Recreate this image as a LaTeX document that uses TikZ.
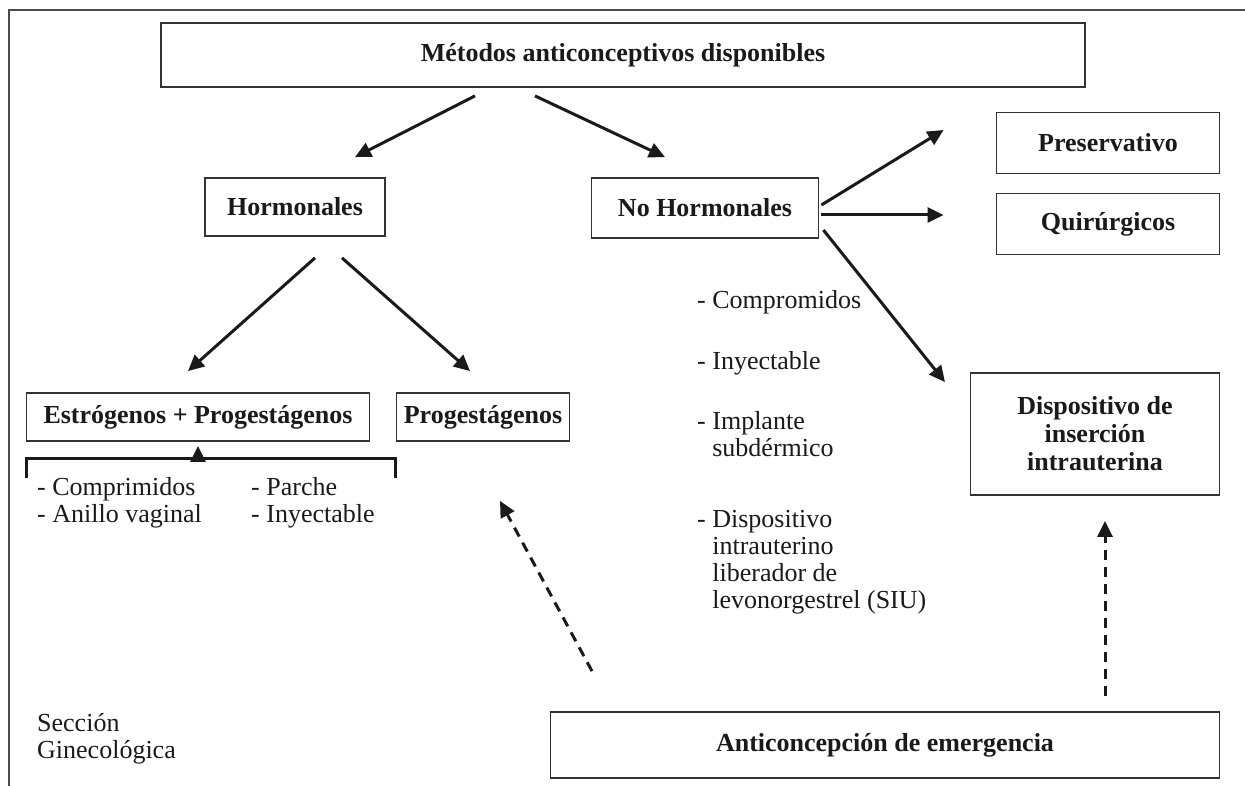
\documentclass[tikz,border=0pt]{standalone}
\usepackage{fontspec}
\setmainfont{Liberation Serif}
\usetikzlibrary{arrows.meta}
\definecolor{boxline}{HTML}{333333}
\definecolor{inkk}{HTML}{1A1A1A}

\begin{document}
\begin{tikzpicture}[x=1pt,y=-1pt,>={Triangle[length=16pt,width=15pt]},
  font=\fontsize{26}{27}\selectfont,text=inkk,
  box/.style={draw=boxline,line width=1.8pt,inner sep=0pt,align=center,
    font=\fontsize{26}{28}\selectfont\bfseries},
  arr/.style={->,draw=inkk,line width=3pt},
  darr/.style={->,draw=inkk,line width=3pt,dash pattern=on 10pt off 7pt},
  item/.style={anchor=north west,align=left,inner sep=0pt}]
  \useasboundingbox (0,0) rectangle (1245,786);
  % outer frame, only top and left
  \draw[gray!60!black,line width=2pt] (9,786) -- (9,10) -- (1245,10);
  % boxes
  \node[box,minimum width=924pt,minimum height=64pt] (metodos) at (623,55) {Métodos anticonceptivos disponibles};
  \node[box,minimum width=180pt,minimum height=58pt] (horm) at (295,207) {Hormonales};
  \node[box,minimum width=227pt,minimum height=60pt] (nohorm) at (705,208) {No Hormonales};
  \node[box,minimum width=223pt,minimum height=61pt] (pres) at (1108,143) {Preservativo};
  \node[box,minimum width=223pt,minimum height=61pt] (quir) at (1108,224) {Quirúrgicos};
  \node[box,minimum width=343pt,minimum height=48pt] (estpro) at (198,417) {Estrógenos + Progestágenos};
  \node[box,minimum width=173pt,minimum height=48pt] (prog) at (483,417) {Progestágenos};
  \node[box,minimum width=249pt,minimum height=122pt] (diu) at (1095,434) {Dispositivo de\\inserción\\intrauterina};
  \node[box,minimum width=669pt,minimum height=66pt] (emerg) at (885,745) {Anticoncepción de emergencia};
  % arrows between the boxes
  \draw[arr] ([xshift=-148pt,yshift=-8pt]metodos.south) -- ([xshift=60pt,yshift=20pt]horm.north);
  \draw[arr] ([xshift=-88pt,yshift=-8pt]metodos.south) -- ([xshift=-40pt,yshift=20pt]nohorm.north);
  \draw[arr] ([xshift=20pt,yshift=-21pt]horm.south) -- ([xshift=-10pt,yshift=21pt]estpro.north);
  \draw[arr] ([xshift=47pt,yshift=-21pt]horm.south) -- ([xshift=-13pt,yshift=21pt]prog.north);
  \draw[arr] ([xshift=2pt,yshift=3pt]nohorm.east) -- ([xshift=-52pt,yshift=13pt]pres.west);
  \draw[arr] ([xshift=2pt,yshift=-7pt]nohorm.east) -- ([xshift=-52pt,yshift=9pt]quir.west);
  \draw[arr] ([xshift=4pt,yshift=-22pt]nohorm.east) -- ([xshift=-150pt,yshift=-10pt]diu.north);
  % emergency, dashed
  \draw[darr] ([xshift=-293pt,yshift=40pt]emerg.north) -- ([xshift=17pt,yshift=-59pt]prog.south);
  \draw[darr] ([xshift=220pt,yshift=15pt]emerg.north) -- ([xshift=10pt,yshift=-25pt]diu.south);
  % bracket under estrogen + progestagen
  \draw[draw=inkk,line width=3pt] (26,478) -- (26,458) -- (395,458) -- (395,478);
  \coordinate (brk) at (198,458);
  \draw[arr] (brk) -- ([yshift=-4pt]estpro.south);
  \node[item] (comp) at (37,477) {- Comprimidos\\- Anillo vaginal};
  \node[item] (parche) at (251,477) {- Parche\\- Inyectable};
  % list for progestagens
  \node[item] (compro) at (697,290) {- Compromidos};
  \node[item] (inyec) at (697,351) {- Inyectable};
  \node[item] (impl) at (697,411) {- Implante\\\phantom{- }subdérmico};
  \node[item] (siu) at (697,510) {- Dispositivo\\\phantom{- }intrauterino\\\phantom{- }liberador de\\\phantom{- }levonorgestrel (SIU)};
  % section label
  \node[item] (seccion) at (37,713) {Sección\\Ginecológica};
\end{tikzpicture}
\end{document}
